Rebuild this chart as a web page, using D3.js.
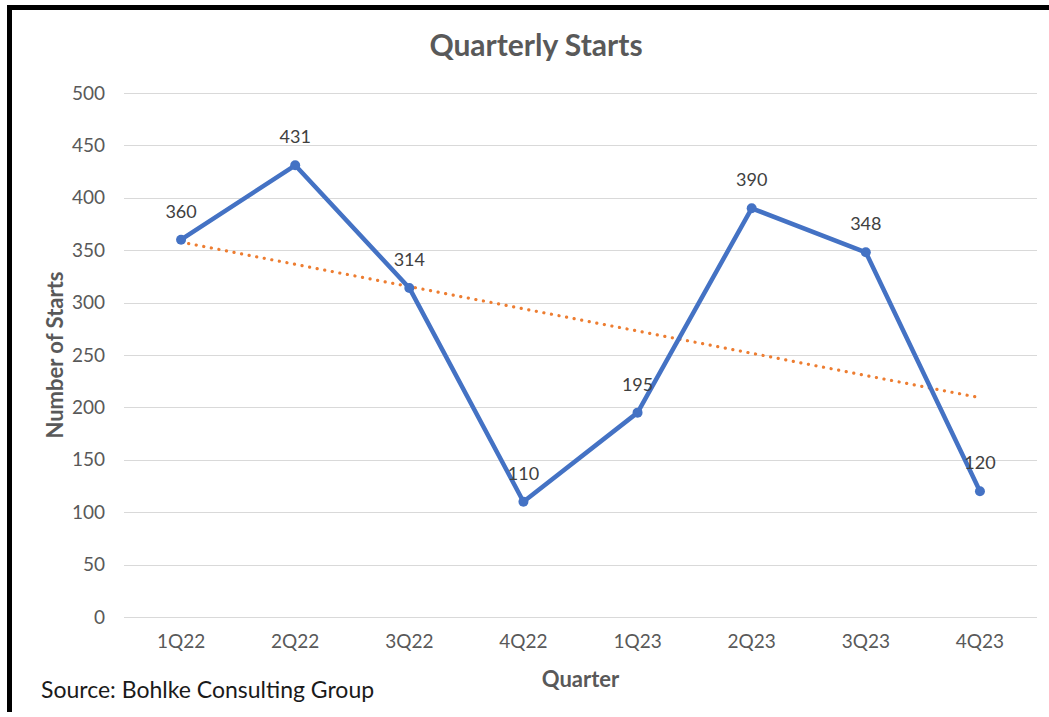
<!DOCTYPE html>
<html>
<head>
<meta charset="utf-8">
<script src="https://cdn.jsdelivr.net/npm/d3@7/dist/d3.min.js"></script>
<style>
  html, body { margin: 0; padding: 0; background: #fff; }
  svg { display: block; }
  text { font-family: Lato, "Open Sans", "Liberation Sans", sans-serif; }
</style>
</head>
<body>
<svg id="chart" width="1049" height="717"></svg>
<script>
// Quarterly starts, 2022–2023
const quarters = ["1Q22", "2Q22", "3Q22", "4Q22", "1Q23", "2Q23", "3Q23", "4Q23"];
const starts = [360, 431, 314, 110, 195, 390, 348, 120];
const yTicks = [0, 50, 100, 150, 200, 250, 300, 350, 400, 450, 500];

const svg = d3.select("#chart");
const W = 1049, H = 717;
const plot = { left: 124, right: 1037, top: 93, bottom: 617 };

svg.append("rect").attr("width", W).attr("height", H).attr("fill", "#fff");

// Frame (top and left edges)
svg.append("path")
  .attr("d", `M9.5,712 L9.5,7.5 L${W},7.5`)
  .attr("fill", "none").attr("stroke", "#000").attr("stroke-width", 5);

const x = d3.scaleBand().domain(quarters).range([plot.left, plot.right]);
const y = d3.scaleLinear().domain([0, 500]).range([plot.bottom, plot.top]);
const cx = q => x(q) + x.bandwidth() / 2;

// Horizontal gridlines
svg.append("g").selectAll("line").data(yTicks).join("line")
  .attr("x1", plot.left).attr("x2", plot.right)
  .attr("y1", d => Math.round(y(d)) + 0.5).attr("y2", d => Math.round(y(d)) + 0.5)
  .attr("stroke", "#d9d9d9").attr("stroke-width", 1);

// Y axis labels
const yAxis = d3.axisLeft(y).tickValues(yTicks).tickSize(0).tickPadding(0);
svg.append("g").attr("transform", `translate(105,0)`).call(yAxis)
  .call(g => g.select(".domain").remove())
  .call(g => g.selectAll("text")
    .attr("fill", "#595959").attr("font-size", 19)
    .attr("font-family", "Lato, 'Open Sans', sans-serif"));

// X axis labels
const xAxis = d3.axisBottom(x).tickSize(0).tickPadding(0);
svg.append("g").attr("transform", `translate(0,${plot.bottom + 17})`).call(xAxis)
  .call(g => g.select(".domain").remove())
  .call(g => g.selectAll("text")
    .attr("fill", "#595959").attr("font-size", 19)
    .attr("font-family", "Lato, 'Open Sans', sans-serif"));

// Linear trendline (least squares over quarter index)
const n = starts.length;
const xs = d3.range(1, n + 1);
const mx = d3.mean(xs), my = d3.mean(starts);
const slope = d3.sum(xs, (v, i) => (v - mx) * (starts[i] - my)) / d3.sum(xs, v => (v - mx) ** 2);
const intercept = my - slope * mx;
svg.append("line")
  .attr("x1", cx(quarters[0])).attr("y1", y(intercept + slope * 1))
  .attr("x2", cx(quarters[n - 1])).attr("y2", y(intercept + slope * n))
  .attr("stroke", "#ED7D31").attr("stroke-width", 3.2)
  .attr("stroke-linecap", "round").attr("stroke-dasharray", "0.1 7.6");

// Series line
const line = d3.line().x((d, i) => cx(quarters[i])).y(d => y(d));
svg.append("path").datum(starts)
  .attr("d", line).attr("fill", "none")
  .attr("stroke", "#4472C4").attr("stroke-width", 4.5)
  .attr("stroke-linejoin", "round");

// Markers
svg.append("g").selectAll("circle").data(starts).join("circle")
  .attr("cx", (d, i) => cx(quarters[i])).attr("cy", d => y(d))
  .attr("r", 5).attr("fill", "#4472C4");

// Data labels
svg.append("g").selectAll("text").data(starts).join("text")
  .attr("x", (d, i) => cx(quarters[i])).attr("y", d => y(d) - 22)
  .attr("text-anchor", "middle").attr("fill", "#404040").attr("font-size", 18)
  .text(d => d);

// Title
svg.append("text").attr("x", 536).attr("y", 56)
  .attr("text-anchor", "middle").attr("font-size", 30).attr("font-weight", "bold")
  .attr("fill", "#595959").text("Quarterly Starts");

// Axis titles
svg.append("text").attr("x", (plot.left + plot.right) / 2).attr("y", 687)
  .attr("text-anchor", "middle").attr("font-size", 22).attr("font-weight", "bold")
  .attr("fill", "#595959").text("Quarter");

svg.append("text")
  .attr("transform", `translate(63,${(plot.top + plot.bottom) / 2}) rotate(-90)`)
  .attr("text-anchor", "middle").attr("font-size", 22).attr("font-weight", "bold")
  .attr("fill", "#595959").text("Number of Starts");

// Source note
svg.append("text").attr("x", 41).attr("y", 698)
  .attr("font-size", 23).attr("fill", "#1a1a1a")
  .text("Source: Bohlke Consulting Group");
</script>
</body>
</html>
